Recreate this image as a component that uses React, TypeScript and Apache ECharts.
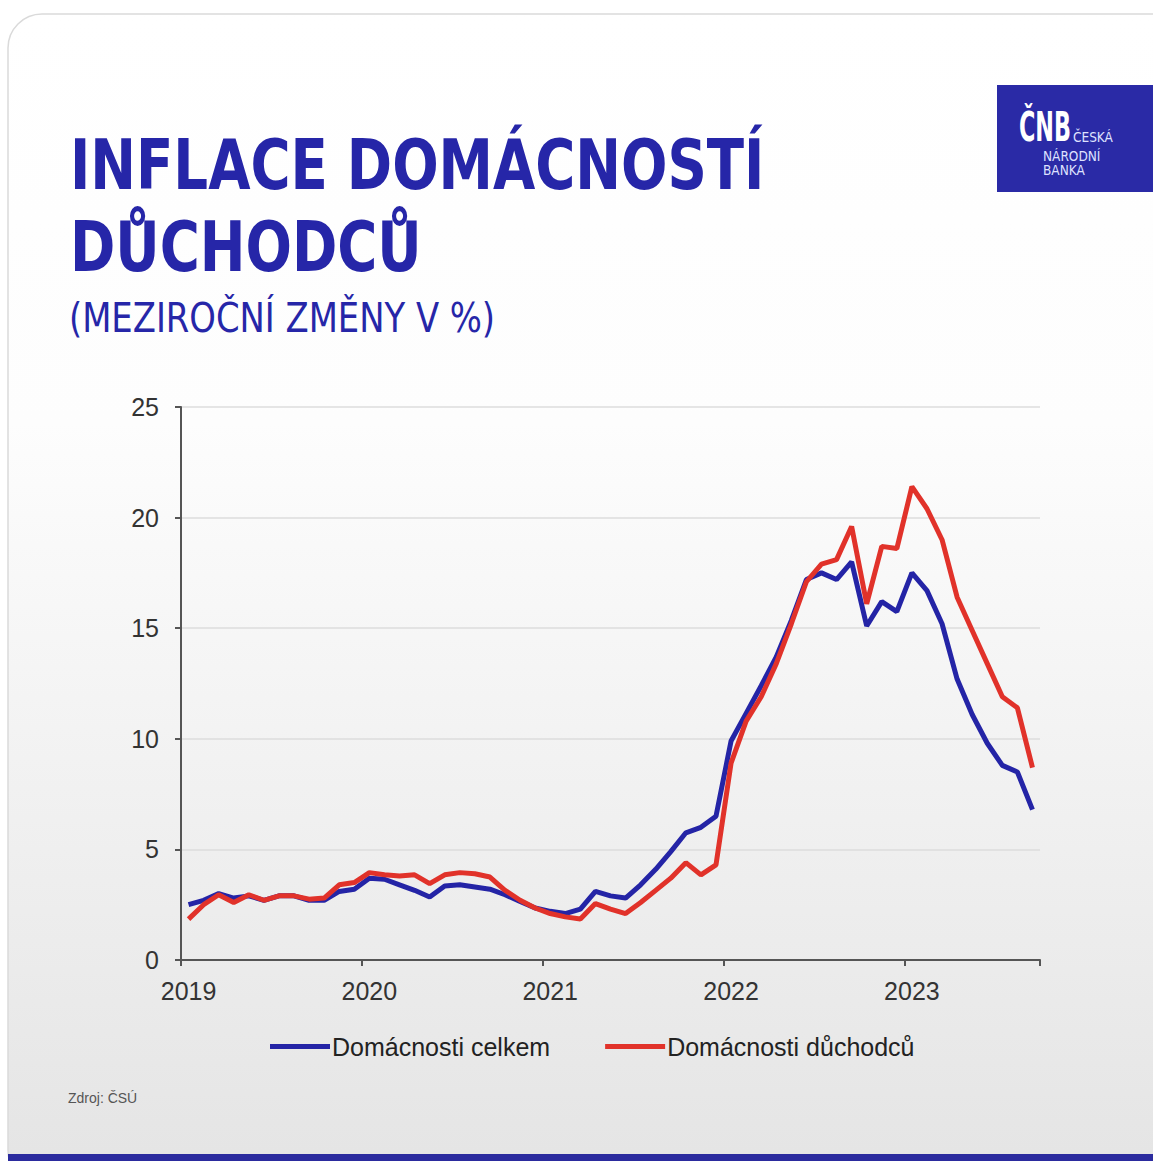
import React, { useEffect, useRef } from "react";
import * as echarts from "echarts";

// Monthly categories Jan 2019 – Sep 2023
const years = [2019, 2020, 2021, 2022, 2023];
const monthsInLastYear = 9;
const categories: string[] = [];
years.forEach((y, yi) => {
  const n = yi === years.length - 1 ? monthsInLastYear : 12;
  for (let m = 1; m <= n; m++) categories.push(`${y}-${m < 10 ? "0" + m : m}`);
});

// Domácnosti celkem (y/y %)
const celkem = [
  2.5, 2.7, 3.0, 2.8, 2.9, 2.7, 2.9, 2.9, 2.7, 2.7, 3.1, 3.2,
  3.7, 3.65, 3.4, 3.15, 2.85, 3.35, 3.4, 3.3, 3.2, 2.95, 2.65, 2.35,
  2.2, 2.1, 2.3, 3.1, 2.9, 2.8, 3.4, 4.1, 4.9, 5.75, 6.0, 6.5,
  9.9, 11.15, 12.4, 13.7, 15.35, 17.2, 17.5, 17.2, 18.0, 15.1, 16.2, 15.75,
  17.5, 16.7, 15.2, 12.7, 11.1, 9.8, 8.8, 8.5, 6.8,
];

// Domácnosti důchodců (y/y %)
const duchodcu = [
  1.85, 2.5, 2.95, 2.6, 2.95, 2.7, 2.9, 2.9, 2.75, 2.8, 3.4, 3.5,
  3.95, 3.85, 3.8, 3.85, 3.45, 3.85, 3.95, 3.9, 3.75, 3.15, 2.7, 2.35,
  2.1, 1.95, 1.85, 2.55, 2.3, 2.1, 2.6, 3.15, 3.7, 4.4, 3.85, 4.3,
  8.9, 10.8, 11.9, 13.4, 15.2, 17.1, 17.9, 18.1, 19.6, 16.1, 18.7, 18.6,
  21.4, 20.4, 19.0, 16.4, 14.9, 13.4, 11.9, 11.4, 8.7,
];

const seriesNames = ["Domácnosti celkem", "Domácnosti důchodců"];
const yMin = 0;
const yMax = 25;
const yStep = 5;

const BLUE = "#2424a6";
const RED = "#e1322a";
const TITLE_BLUE = "#2626a8";

export default function App() {
  const ref = useRef<HTMLDivElement>(null);

  useEffect(() => {
    if (!ref.current) return;
    const chart = echarts.init(ref.current, undefined, { renderer: "svg" });
    const narrow = '"DejaVu Sans Condensed", "Liberation Sans Narrow", "Liberation Sans", sans-serif';
    const sans = '"Liberation Sans", Arial, sans-serif';

    chart.setOption({
      animation: false,
      backgroundColor: "#ffffff",
      textStyle: { fontFamily: sans },
      graphic: [
        {
          type: "rect",
          z: -10,
          silent: true,
          shape: { x: 8, y: 14, width: 1180, height: 1170, r: 34 },
          style: {
            fill: {
              type: "linear",
              x: 0, y: 0, x2: 0, y2: 1,
              colorStops: [
                { offset: 0, color: "#ffffff" },
                { offset: 0.35, color: "#fdfdfd" },
                { offset: 1, color: "#e4e4e4" },
              ],
            },
            stroke: "#dadada",
            lineWidth: 1.5,
          },
        },
        {
          type: "rect",
          z: -5,
          silent: true,
          shape: { x: 8, y: 1154, width: 1160, height: 8 },
          style: { fill: "#2b2b9e" },
        },
        {
          type: "text",
          x: 70,
          y: 165,
          scaleX: 0.88,
          style: {
            text: "INFLACE DOMÁCNOSTÍ",
            fill: TITLE_BLUE,
            fontSize: 69,
            fontWeight: "bold",
            fontFamily: narrow,
            textVerticalAlign: "middle",
          },
        },
        {
          type: "text",
          x: 70,
          y: 247,
          scaleX: 0.88,
          style: {
            text: "DŮCHODCŮ",
            fill: TITLE_BLUE,
            fontSize: 69,
            fontWeight: "bold",
            fontFamily: narrow,
            textVerticalAlign: "middle",
          },
        },
        {
          type: "text",
          x: 69,
          y: 318,
          scaleX: 0.94,
          style: {
            text: "(MEZIROČNÍ ZMĚNY V %)",
            fill: TITLE_BLUE,
            fontSize: 40,
            fontWeight: "normal",
            fontFamily: narrow,
            textVerticalAlign: "middle",
          },
        },
        // Logo
        {
          type: "rect",
          silent: true,
          shape: { x: 997, y: 85, width: 170, height: 107 },
          style: { fill: "#2a2aa6" },
        },
        {
          type: "text",
          x: 1019,
          y: 127,
          scaleX: 0.62,
          style: {
            text: "ČNB",
            fill: "#ffffff",
            fontSize: 40,
            fontWeight: "bold",
            fontFamily: narrow,
            textVerticalAlign: "middle",
          },
        },
        {
          type: "text",
          x: 1073,
          y: 137,
          style: { text: "ČESKÁ", fill: "#dfe2ff", fontSize: 13.5, fontFamily: narrow, textVerticalAlign: "middle" },
        },
        {
          type: "text",
          x: 1043,
          y: 156,
          style: { text: "NÁRODNÍ", fill: "#dfe2ff", fontSize: 13.5, fontFamily: narrow, textVerticalAlign: "middle" },
        },
        {
          type: "text",
          x: 1043,
          y: 170,
          style: { text: "BANKA", fill: "#dfe2ff", fontSize: 13.5, fontFamily: narrow, textVerticalAlign: "middle" },
        },
        {
          type: "text",
          x: 68,
          y: 1098,
          style: { text: "Zdroj: ČSÚ", fill: "#555555", fontSize: 14, fontFamily: sans, textVerticalAlign: "middle" },
        },
      ],
      grid: { left: 181, right: 113, top: 407, bottom: 201, containLabel: false },
      legend: {
        top: 1029,
        left: 265,
        icon: "rect",
        itemWidth: 60,
        itemHeight: 5,
        itemGap: 55,
        data: seriesNames,
        textStyle: { fontSize: 25, color: "#222222", fontFamily: sans, padding: [0, 0, 0, -3] },
      },
      xAxis: {
        type: "category",
        data: categories,
        boundaryGap: true,
        axisLine: { show: true, lineStyle: { color: "#555555", width: 2 } },
        axisTick: {
          show: true,
          interval: (index: number) => index % 12 === 0,
          length: 6,
          lineStyle: { color: "#555555", width: 2 },
        },
        axisLabel: {
          interval: 11,
          fontSize: 25,
          color: "#333333",
          margin: 18,
          formatter: (v: string) => v.slice(0, 4),
        },
        splitLine: { show: false },
      },
      yAxis: {
        type: "value",
        min: yMin,
        max: yMax,
        interval: yStep,
        axisLine: { show: true, lineStyle: { color: "#555555", width: 2 } },
        axisTick: { show: true, length: 6, lineStyle: { color: "#555555", width: 2 } },
        axisLabel: { fontSize: 25, color: "#333333", margin: 22 },
        splitLine: { show: true, lineStyle: { color: "#dcdcdc", width: 1.5 } },
      },
      series: [
        {
          name: seriesNames[0],
          type: "line",
          data: celkem,
          showSymbol: false,
          symbol: "none",
          color: BLUE,
          lineStyle: { color: BLUE, width: 5 },
        },
        {
          name: seriesNames[1],
          type: "line",
          data: duchodcu,
          showSymbol: false,
          symbol: "none",
          color: RED,
          lineStyle: { color: RED, width: 5 },
        },
      ],
    });
    return () => chart.dispose();
  }, []);

  return (
    <div
      ref={ref}
      style={{ position: "fixed", left: 0, top: 0, width: 1153, height: 1161 }}
    />
  );
}
